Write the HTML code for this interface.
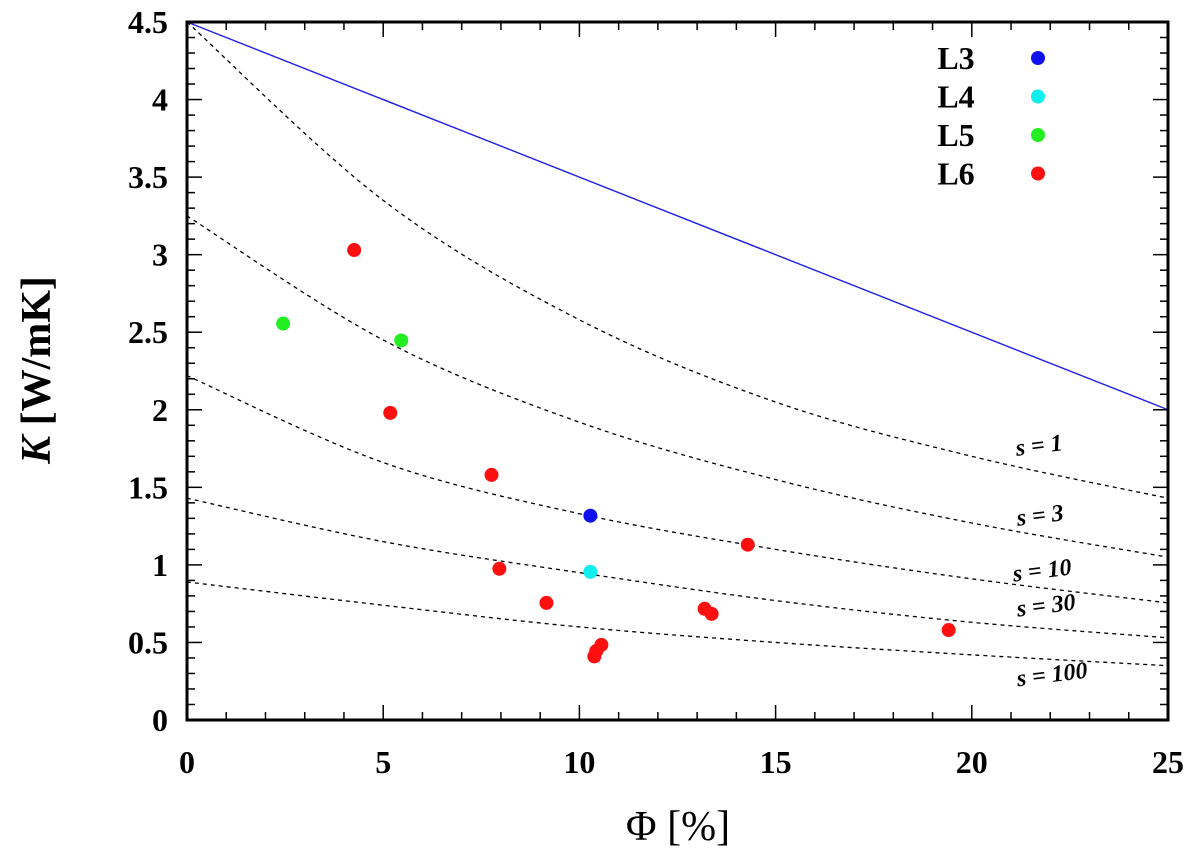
<!DOCTYPE html>
<html><head><meta charset="utf-8"><style>
html,body{margin:0;padding:0;background:#fff;}
svg{display:block;font-family:"Liberation Serif",serif;}
</style></head><body>
<svg id="chart" width="1200" height="853" viewBox="0 0 1200 853" xmlns="http://www.w3.org/2000/svg">
<g id="grid"></g>
<g id="curves"></g>
<g id="pts"></g>
<g id="axes"></g>
<g id="legend"></g>
</svg>
<script>
const xSamples=[0,5,10,15,20,25];
const curveNames=["s = 1","s = 3","s = 10","s = 30","s = 100"];
const s1=[4.5,3.35,2.58,2.05,1.70,1.43];
const s3=[3.25,2.45,1.92,1.55,1.27,1.05];
const s10=[2.22,1.66,1.33,1.10,0.91,0.755];
const s30=[1.43,1.15,0.95,0.77,0.63,0.53];
const s100=[0.89,0.74,0.60,0.50,0.42,0.35];
const boundX=[0,25];
const boundY=[4.5,2.0];
const L3x=[10.28],L3y=[1.317];
const L4x=[10.28],L4y=[0.955];
const L5x=[2.45,5.46],L5y=[2.556,2.447];
const L6x=[4.26,5.18,7.76,7.96,9.16,10.56,10.43,10.38,13.19,13.37,14.29,19.41];
const L6y=[3.03,1.98,1.58,0.975,0.755,0.484,0.445,0.41,0.717,0.684,1.13,0.58];
const xTicks=[0,5,10,15,20,25];
const yTicks=[0,0.5,1,1.5,2,2.5,3,3.5,4,4.5];
const yTickLabels=["0","0.5","1","1.5","2","2.5","3","3.5","4","4.5"];

const X0=187,X1=1168,Y0=720,Y1=22;
const sx=v=>X0+(v-0)/(25-0)*(X1-X0);
const sy=v=>Y0-(v-0)/(4.5-0)*(Y0-Y1);
const NS="http://www.w3.org/2000/svg";
function mk(tag,parent,attrs){const e=document.createElementNS(NS,tag);for(const k in attrs)e.setAttribute(k,attrs[k]);parent.appendChild(e);return e;}
const g=id=>document.getElementById(id);

function pathThrough(xs,ys){
  const P=xs.map((x,i)=>[sx(x),sy(ys[i])]);
  let d="M"+P[0][0]+","+P[0][1];
  for(let i=0;i<P.length-1;i++){
    const p0=P[i-1]||P[i],p1=P[i],p2=P[i+1],p3=P[i+2]||P[i+1];
    const c1=[p1[0]+(p2[0]-p0[0])/6,p1[1]+(p2[1]-p0[1])/6];
    const c2=[p2[0]-(p3[0]-p1[0])/6,p2[1]-(p3[1]-p1[1])/6];
    d+=` C${c1[0]},${c1[1]} ${c2[0]},${c2[1]} ${p2[0]},${p2[1]}`;
  }
  return d;
}
const series=[s1,s3,s10,s30,s100];
const curveKeys=["s1","s3","s10","s30","s100"];
series.forEach((ys,i)=>{
  const p=mk("path",g("curves"),{d:pathThrough(xSamples,ys),fill:"none",stroke:"#000","stroke-width":1.3,"stroke-dasharray":"4,4"});
  
  
});
const bl=mk("line",g("curves"),{x1:sx(boundX[0]),y1:sy(boundY[0]),x2:sx(boundX[1]),y2:sy(boundY[1]),stroke:"#1f1fe6","stroke-width":1.4});



const labPos=[[1040,453],[1041,523],[1043,578],[1047,613],[1053,682]];
curveNames.forEach((t,i)=>{
  const e=mk("text",g("curves"),{x:labPos[i][0],y:labPos[i][1],"text-anchor":"middle","font-size":24,"font-style":"italic","font-weight":"bold",transform:`rotate(-7 ${labPos[i][0]} ${labPos[i][1]})`});
  e.textContent=t;
  
  
});

function pts(xs,ys,col,name){
  xs.forEach((x,i)=>{
    const c=mk("circle",g("pts"),{cx:sx(x),cy:sy(ys[i]),r:7,fill:col});
    
    
  });
}
pts(L6x,L6y,"#ff1010","l6");
pts(L5x,L5y,"#22ee22","l5");
pts(L3x,L3y,"#1010ee","l3");
pts(L4x,L4y,"#11eeee","l4");

const fr=mk("rect",g("axes"),{x:X0,y:Y1,width:X1-X0,height:Y0-Y1,fill:"none",stroke:"#000","stroke-width":3});


for(let v=0;v<=25;v+=1){
  const L=(v%5===0)?15:8;
  mk("line",g("axes"),{x1:sx(v),y1:Y0,x2:sx(v),y2:Y0-L,stroke:"#000","stroke-width":1.5});
  mk("line",g("axes"),{x1:sx(v),y1:Y1,x2:sx(v),y2:Y1+L,stroke:"#000","stroke-width":1.5});
}
for(let k=0;k<=45;k++){
  const v=k/10,L=(k%5===0)?15:8;
  mk("line",g("axes"),{x1:X0,y1:sy(v),x2:X0+L,y2:sy(v),stroke:"#000","stroke-width":1.5});
  mk("line",g("axes"),{x1:X1,y1:sy(v),x2:X1-L,y2:sy(v),stroke:"#000","stroke-width":1.5});
}
xTicks.forEach(v=>{
  const t=mk("text",g("axes"),{x:sx(v),y:773,"text-anchor":"middle","font-size":32,"font-weight":"bold"});
  t.textContent=String(v);
  
  
});
yTicks.forEach((v,i)=>{
  const t=mk("text",g("axes"),{x:168,y:sy(v)+11,"text-anchor":"end","font-size":32,"font-weight":"bold"});
  t.textContent=yTickLabels[i];
  
  
});
const xt=mk("text",g("axes"),{x:678,y:840,"text-anchor":"middle","font-size":42});
xt.textContent="Φ [%]";


const yt=mk("text",g("axes"),{x:50,y:370,"text-anchor":"middle","font-size":42,"font-weight":"bold",transform:"rotate(-90 50 370)"});
yt.innerHTML='<tspan font-style="italic">K</tspan> [W/mK]';



const leg=[["L3","#1010ee"],["L4","#11eeee"],["L5","#22ee22"],["L6","#ff1010"]];
leg.forEach((l,i)=>{
  const y=58+i*38.5;
  const t=mk("text",g("legend"),{x:956,y:y+11,"text-anchor":"middle","font-size":32,"font-weight":"bold"});
  t.textContent=l[0];
  
  
  const c=mk("circle",g("legend"),{cx:1038,cy:y,r:7,fill:l[1]});
  
  
});
</script>
</body></html>
